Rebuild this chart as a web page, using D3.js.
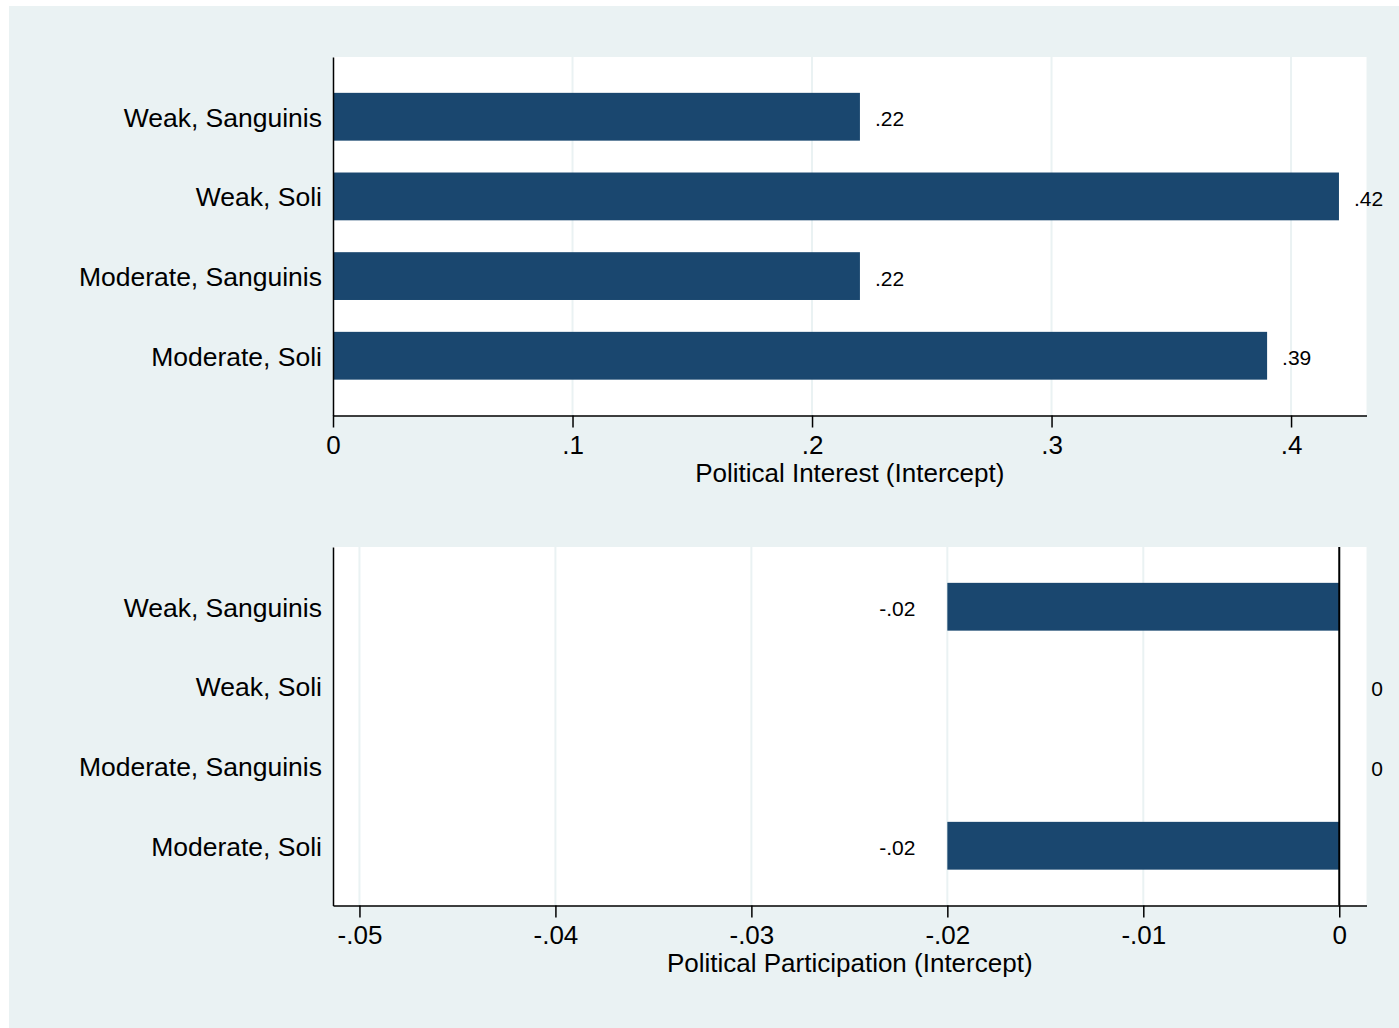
<!DOCTYPE html>
<html>
<head>
<meta charset="utf-8">
<script src="https://cdn.jsdelivr.net/npm/d3@7"></script>
<style>
  body { margin: 0; background: #fff; }
  text { font-family: "Liberation Sans", Arial, sans-serif; fill: #000; }
</style>
</head>
<body>
<script>
'use strict';

// categories, top to bottom
let groups = ["Weak, Sanguinis", "Weak, Soli", "Moderate, Sanguinis", "Moderate, Soli"];

// political interest intercepts
let interestValues = [0.22, 0.42, 0.22, 0.39];
let interestLabels = [".22", ".42", ".22", ".39"];
let interestTicks = [0, 0.1, 0.2, 0.3, 0.4];
let interestTickLabels = ["0", ".1", ".2", ".3", ".4"];

// political participation intercepts
let partValues = [-0.02, 0, 0, -0.02];
let partLabels = ["-.02", "0", "0", "-.02"];
let partTicks = [-0.05, -0.04, -0.03, -0.02, -0.01, 0];
let partTickLabels = ["-.05", "-.04", "-.03", "-.02", "-.01", "0"];

const W = 1399, H = 1028;
const barColor = "#1a476f";
const bgColor = "#eaf2f3";
const fontFam = '"Liberation Sans", Arial, sans-serif';

let svg = d3.select("body").append("svg")
  .attr("width", W)
  .attr("height", H);

// outer background
svg.append("rect")
  .attr("x", 9).attr("y", 6)
  .attr("width", W - 9).attr("height", H - 6)
  .attr("fill", bgColor);

// draw one horizontal bar panel
function drawPanel(opts) {
  let left = 333, right = 1366.5;
  let top = opts.top, bottom = opts.top + 358.5;

  let xScale = d3.scaleLinear()
    .domain(opts.domain)
    .range([left, right]);

  let yScale = d3.scaleBand()
    .domain(groups)
    .range([top, bottom])
    .paddingInner(0.4)
    .paddingOuter(0.45);

  let g = svg.append("g");

  // plot region
  g.append("rect")
    .attr("x", left).attr("y", top)
    .attr("width", right - left).attr("height", bottom - top)
    .attr("fill", "#fff");

  // gridlines
  g.selectAll(".grid")
    .data(opts.ticks)
    .enter()
    .append("line")
    .attr("x1", d => xScale(d)).attr("x2", d => xScale(d))
    .attr("y1", top).attr("y2", bottom)
    .attr("stroke", bgColor)
    .attr("stroke-width", 2);

  let rows = groups.map((name, i) => ({ name: name, v: opts.values[i], label: opts.labels[i] }));

  // bars
  g.selectAll(".bar")
    .data(rows)
    .enter()
    .append("rect")
    .attr("x", d => Math.min(xScale(0), xScale(d.v)))
    .attr("y", d => yScale(d.name))
    .attr("width", d => Math.abs(xScale(d.v) - xScale(0)))
    .attr("height", yScale.bandwidth())
    .attr("fill", barColor);

  // zero line for panel with negative values
  if (opts.zeroLine) {
    g.append("line")
      .attr("x1", xScale(0)).attr("x2", xScale(0))
      .attr("y1", top).attr("y2", bottom)
      .attr("stroke", "#000")
      .attr("stroke-width", 2);
  }

  // bar labels
  g.selectAll(".blabel")
    .data(rows)
    .enter()
    .append("text")
    .attr("x", d => d.v > 0 ? xScale(d.v) + 15 : (d.v < 0 ? xScale(d.v) - 32 : xScale(0) + 32))
    .attr("y", d => yScale(d.name) + yScale.bandwidth() / 2)
    .attr("dy", "0.45em")
    .attr("text-anchor", d => d.v < 0 ? "end" : "start")
    .style("font-size", "21px")
    .text(d => d.label);

  // y axis
  let yAxis = d3.axisLeft(yScale).tickSize(0).tickPadding(11);
  let ya = g.append("g")
    .attr("transform", "translate(" + left + ",0)")
    .call(yAxis);
  ya.select(".domain").attr("stroke", "#000").attr("stroke-width", 1.5);
  ya.selectAll("text")
    .attr("dy", "0.38em")
    .style("font-size", "26.5px")
    .style("font-family", fontFam);

  // x axis
  let xAxis = d3.axisBottom(xScale)
    .tickValues(opts.ticks)
    .tickFormat((d, i) => opts.tickLabels[i])
    .tickSize(12)
    .tickSizeOuter(0)
    .tickPadding(8);
  let xa = g.append("g")
    .attr("transform", "translate(0," + bottom + ")")
    .call(xAxis);
  xa.select(".domain").attr("stroke", "#000").attr("stroke-width", 1.5);
  xa.selectAll(".tick line").attr("stroke", "#000").attr("stroke-width", 1.5);
  xa.selectAll("text")
    .style("font-size", "26px")
    .style("font-family", fontFam);

  // axis title
  g.append("text")
    .attr("x", (left + right) / 2)
    .attr("y", bottom + 66)
    .attr("text-anchor", "middle")
    .style("font-size", "26px")
    .text(opts.title);
}

drawPanel({
  top: 57,
  domain: [0, 0.4315],
  values: interestValues,
  labels: interestLabels,
  ticks: interestTicks,
  tickLabels: interestTickLabels,
  title: "Political Interest (Intercept)",
  zeroLine: false
});

drawPanel({
  top: 547,
  domain: [-0.05135, 0.00139],
  values: partValues,
  labels: partLabels,
  ticks: partTicks,
  tickLabels: partTickLabels,
  title: "Political Participation (Intercept)",
  zeroLine: true
});
</script>
</body>
</html>
